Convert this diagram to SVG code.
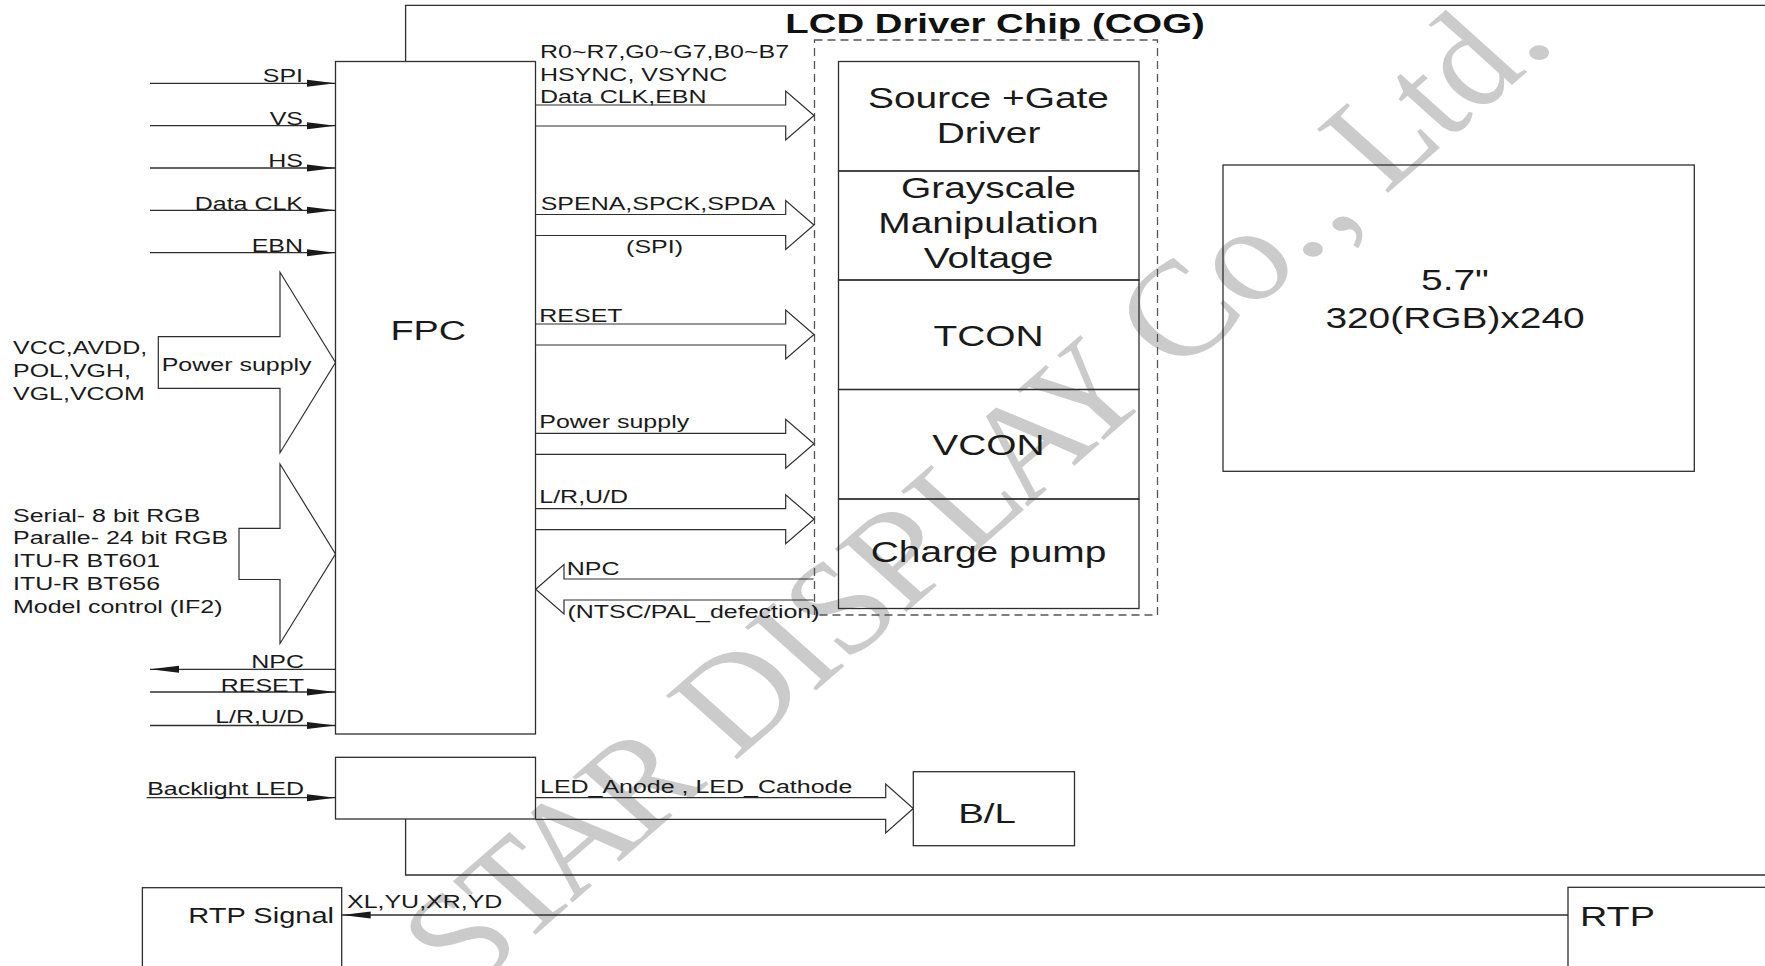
<svg xmlns="http://www.w3.org/2000/svg" width="1765" height="966" viewBox="0 0 1765 966">
<defs>
<style>
.ln{stroke:#2e2e2e;stroke-width:1.3;fill:none}
.bx{stroke:#2e2e2e;stroke-width:1.3;fill:none}
.ha{stroke:#2e2e2e;stroke-width:1.2;fill:none;stroke-linejoin:miter}
.ds{stroke:#555;stroke-width:1.3;fill:none;stroke-dasharray:8 5}
.t{font-family:"Liberation Sans",Arial,sans-serif;font-size:18.5px;fill:#1a1a1a}
.tb{font-family:"Liberation Sans",Arial,sans-serif;font-size:28.8px;fill:#1a1a1a}
.ttl{font-family:"Liberation Sans",Arial,sans-serif;font-size:28.4px;font-weight:bold;fill:#111}
.e{text-anchor:end}
.m{text-anchor:middle}
.wm{font-family:"Liberation Serif","Times New Roman",serif;font-style:italic;font-size:124px;fill:#cbcbcb}
</style>
<marker id="ah" markerWidth="29" markerHeight="9" refX="29" refY="4.5" orient="auto" markerUnits="userSpaceOnUse">
<path d="M0,1 L29,4.5 L0,8 z" fill="#1a1a1a"/>
</marker>
</defs>
<rect width="1765" height="966" fill="#fff"/>

<g id="watermark">
<text class="wm" transform="translate(472,990) scale(1.35,1) rotate(-49.6)">STAR DISPLAY Co., Ltd.</text>
</g>

<g id="chip-outline">
<path class="ln" d="M1765,5.3 H405.6 V61.5 M405.6,819 V875 H1765"/>
<text class="ttl m" transform="translate(995,32.5) scale(1.35,1)">LCD Driver Chip (COG)</text>
</g>

<g id="driver-area">
<rect class="ds" x="814.5" y="40" width="343" height="575"/>
</g>

<g id="source-gate">
<rect class="bx" x="838.5" y="61.5" width="300.5" height="109.5"/>
<text class="tb m" transform="translate(988.5,108.3) scale(1.35,1)">Source +Gate</text>
<text class="tb m" transform="translate(988.5,143.3) scale(1.35,1)">Driver</text>
</g>
<g id="grayscale">
<rect class="bx" x="838.5" y="171" width="300.5" height="109"/>
<text class="tb m" transform="translate(988.5,198.3) scale(1.35,1)">Grayscale</text>
<text class="tb m" transform="translate(988.5,233.3) scale(1.35,1)">Manipulation</text>
<text class="tb m" transform="translate(988.5,268.3) scale(1.35,1)">Voltage</text>
</g>
<g id="tcon">
<rect class="bx" x="838.5" y="280" width="300.5" height="109.5"/>
<text class="tb m" transform="translate(988.5,345.7) scale(1.35,1)">TCON</text>
</g>
<g id="vcon">
<rect class="bx" x="838.5" y="389.5" width="300.5" height="109.5"/>
<text class="tb m" transform="translate(988.5,455) scale(1.35,1)">VCON</text>
</g>
<g id="charge-pump">
<rect class="bx" x="838.5" y="499" width="300.5" height="109.5"/>
<text class="tb m" transform="translate(988.5,561.7) scale(1.35,1)">Charge pump</text>
</g>

<g id="fpc">
<rect class="bx" x="335.5" y="61.5" width="200" height="672.5"/>
<text class="tb m" style="font-size:28px" transform="translate(428.3,340) scale(1.35,1)">FPC</text>
</g>

<g id="backlight-driver">
<rect class="bx" x="335.5" y="757.3" width="200" height="61.7"/>
</g>

<g id="bl">
<rect class="bx" x="913.3" y="771.7" width="161.2" height="74"/>
<text class="tb m" style="font-size:28.5px" transform="translate(987,823.3) scale(1.35,1)">B/L</text>
</g>

<g id="panel">
<rect class="bx" x="1223" y="165" width="471.3" height="306.3"/>
<text class="tb m" transform="translate(1455,290) scale(1.35,1)">5.7"</text>
<text class="tb m" transform="translate(1455,328.3) scale(1.35,1)">320(RGB)x240</text>
</g>

<g id="rtp-signal">
<rect class="bx" x="142.4" y="887.7" width="199.3" height="90"/>
<text class="t e" style="font-size:21.5px" transform="translate(334,922.7) scale(1.35,1)">RTP Signal</text>
</g>

<g id="rtp">
<rect class="bx" x="1568" y="887.3" width="210" height="90"/>
<text class="tb" style="font-size:28px" transform="translate(1580,926) scale(1.35,1)">RTP</text>
</g>

<g id="connectors">
<line class="ln" x1="150" y1="83.3" x2="335.5" y2="83.3" marker-end="url(#ah)"/>
<line class="ln" x1="150" y1="125.7" x2="335.5" y2="125.7" marker-end="url(#ah)"/>
<line class="ln" x1="150" y1="168" x2="335.5" y2="168" marker-end="url(#ah)"/>
<line class="ln" x1="150" y1="210.3" x2="335.5" y2="210.3" marker-end="url(#ah)"/>
<line class="ln" x1="150" y1="252.7" x2="335.5" y2="252.7" marker-end="url(#ah)"/>
<line class="ln" x1="335.5" y1="669.3" x2="150" y2="669.3" marker-end="url(#ah)"/>
<line class="ln" x1="150" y1="692" x2="335.5" y2="692" marker-end="url(#ah)"/>
<line class="ln" x1="150" y1="725.5" x2="335.5" y2="725.5" marker-end="url(#ah)"/>
<line class="ln" x1="146.6" y1="797.7" x2="335.5" y2="797.7" marker-end="url(#ah)"/>
<line class="ln" x1="1568" y1="915" x2="341.7" y2="915" marker-end="url(#ah)"/>

<path class="ha" d="M158.3,336.7 H280 V272.3 L335.5,362.5 L280,452.7 V388.3 H158.3 Z"/>
<path class="ha" d="M239,528.3 H280 V464 L335.5,554 L280,643.5 V579.5 H239 Z"/>

<path class="ha" d="M535.5,105 H785.7 V91 L814,115.5 L785.7,140 V126 H535.5"/>
<path class="ha" d="M535.5,214.5 H785.7 V200.5 L814,225 L785.7,249.5 V235.5 H535.5"/>
<path class="ha" d="M535.5,324 H785.7 V310 L814,334.5 L785.7,359 V345 H535.5"/>
<path class="ha" d="M535.5,433.3 H785.7 V419.3 L814,443.8 L785.7,468.3 V454.3 H535.5"/>
<path class="ha" d="M535.5,508.7 H785.7 V494.7 L814,519.2 L785.7,543.7 V529.7 H535.5"/>
<path class="ha" d="M813.5,579 H564 V564.5 L535.7,589.3 L564,614 V600 H813.5"/>
<path class="ha" d="M535.5,797.7 H885.7 V784 L913.3,808.5 L885.7,833 V819.3 H535.5"/>

<text class="t e" transform="translate(303,81.7) scale(1.35,1)">SPI</text>
<text class="t e" transform="translate(303,124.7) scale(1.35,1)">VS</text>
<text class="t e" transform="translate(303,166.7) scale(1.35,1)">HS</text>
<text class="t e" transform="translate(303,210) scale(1.35,1)">Data CLK</text>
<text class="t e" transform="translate(303,252) scale(1.35,1)">EBN</text>
<text class="t e" transform="translate(304,667.5) scale(1.35,1)">NPC</text>
<text class="t e" transform="translate(304,691.5) scale(1.35,1)">RESET</text>
<text class="t e" transform="translate(304,723.3) scale(1.35,1)">L/R,U/D</text>
<text class="t e" transform="translate(304,795) scale(1.35,1)">Backlight LED</text>

<text class="t" transform="translate(13,354) scale(1.35,1)">VCC,AVDD,</text>
<text class="t" transform="translate(13,376.7) scale(1.35,1)">POL,VGH,</text>
<text class="t" transform="translate(13,400) scale(1.35,1)">VGL,VCOM</text>
<text class="t" transform="translate(161.7,370.7) scale(1.35,1)">Power supply</text>
<text class="t" transform="translate(13,521.7) scale(1.35,1)">Serial- 8 bit RGB</text>
<text class="t" transform="translate(13,544.3) scale(1.35,1)">Paralle- 24 bit RGB</text>
<text class="t" transform="translate(13,567.3) scale(1.35,1)">ITU-R BT601</text>
<text class="t" transform="translate(13,590.3) scale(1.35,1)">ITU-R BT656</text>
<text class="t" transform="translate(13,613.3) scale(1.35,1)">Model control (IF2)</text>

<text class="t" transform="translate(540,57.7) scale(1.35,1)">R0~R7,G0~G7,B0~B7</text>
<text class="t" transform="translate(540,81) scale(1.35,1)">HSYNC, VSYNC</text>
<text class="t" transform="translate(540,103.3) scale(1.35,1)">Data CLK,EBN</text>
<text class="t" transform="translate(540.7,210) scale(1.35,1)">SPENA,SPCK,SPDA</text>
<text class="t m" transform="translate(654.5,253.3) scale(1.35,1)">(SPI)</text>
<text class="t" transform="translate(539.3,321.7) scale(1.35,1)">RESET</text>
<text class="t" transform="translate(539.3,428.3) scale(1.35,1)">Power supply</text>
<text class="t" transform="translate(539.3,503.3) scale(1.35,1)">L/R,U/D</text>
<text class="t" transform="translate(566.7,575) scale(1.35,1)">NPC</text>
<text class="t" transform="translate(567.5,617.5) scale(1.35,1)">(NTSC/PAL_defection)</text>
<text class="t" transform="translate(540,792.7) scale(1.35,1)">LED_Anode , LED_Cathode</text>
<text class="t" transform="translate(347,908.3) scale(1.35,1)">XL,YU,XR,YD</text>
</g>
</svg>
